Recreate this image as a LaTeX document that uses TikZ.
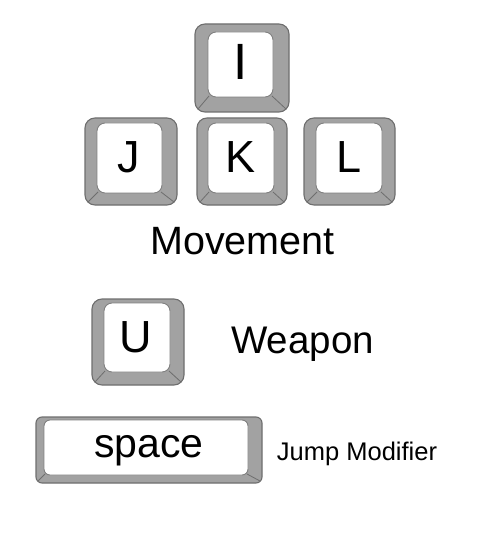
\documentclass[tikz,border=0pt]{standalone}
\usepackage{fontspec}
\setmainfont{Liberation Sans}
\definecolor{capgrey}{HTML}{A2A2A2}
\definecolor{capline}{HTML}{6E6E6E}
\definecolor{inline}{HTML}{808080}
\tikzset{
  keyouter/.style={fill=capgrey, draw=capline, line width=1.1pt, rounded corners=#1},
  keyouter/.default=10pt,
  keyinner/.style={fill=white, draw=inline, line width=0.9pt, rounded corners=#1},
  keyinner/.default=8pt,
  keyedge/.style={draw=capline, line width=0.8pt},
  keylabel/.style={inner sep=0pt, font=\fontsize{45}{47}\selectfont},
  caption/.style={inner sep=0pt, anchor=base, font=\fontsize{#1}{#1}\selectfont},
}
% outer x1 y1 x2 y2, inner x1 y1 x2 y2
\newcommand\keycap[8]{%
  \draw[keyouter] (#1,#2) rectangle (#3,#4);
  \draw[keyinner] (#5,#6) rectangle (#7,#8);
  \draw[keyedge] (#5+1,#8-1) -- (#1+3,#4-3);
  \draw[keyedge] (#7-1,#8-1) -- (#3-3,#4-3);
}
\begin{document}
\begin{tikzpicture}[x=1pt,y=-1pt]
\useasboundingbox (0,0) rectangle (482,537);
% I key
\keycap{195}{24}{289}{112}{208}{32}{273}{97}
\node[keylabel, font=\fontsize{51}{53}\selectfont] (kI) at (240.5,61.5) {I};
% J K L
\keycap{85}{118}{177}{205}{97}{123}{162}{193}
\node[keylabel] (kJ) at (128.5,157) {J};
\keycap{197}{118}{287}{205}{208}{123}{274}{193}
\node[keylabel] (kK) at (241,157.5) {K};
\keycap{304}{118}{395}{205}{316}{123}{382}{193}
\node[keylabel] (kL) at (349,157.5) {L};
\node[caption=39.5] (mov) at (242.5,254) {Movement};
% U key
\keycap{92}{299}{184}{385}{104}{303}{170}{372}
\node[keylabel] (kU) at (135.5,337.5) {U};
\node[caption=38.5] (weap) at (302.5,353) {Weapon};
% space key
\draw[keyouter=6pt] (36,417) rectangle (262,483);
\draw[keyinner=6pt] (44,420) rectangle (248,475);
\draw[keyedge] (45,474) -- (38,481);
\draw[keyedge] (247,474) -- (260,481);
\node[caption=41] (kspace) at (149,457) {space};
\node[caption=25.5] (jump) at (357,460) {Jump Modifier};
\end{tikzpicture}
\end{document}
